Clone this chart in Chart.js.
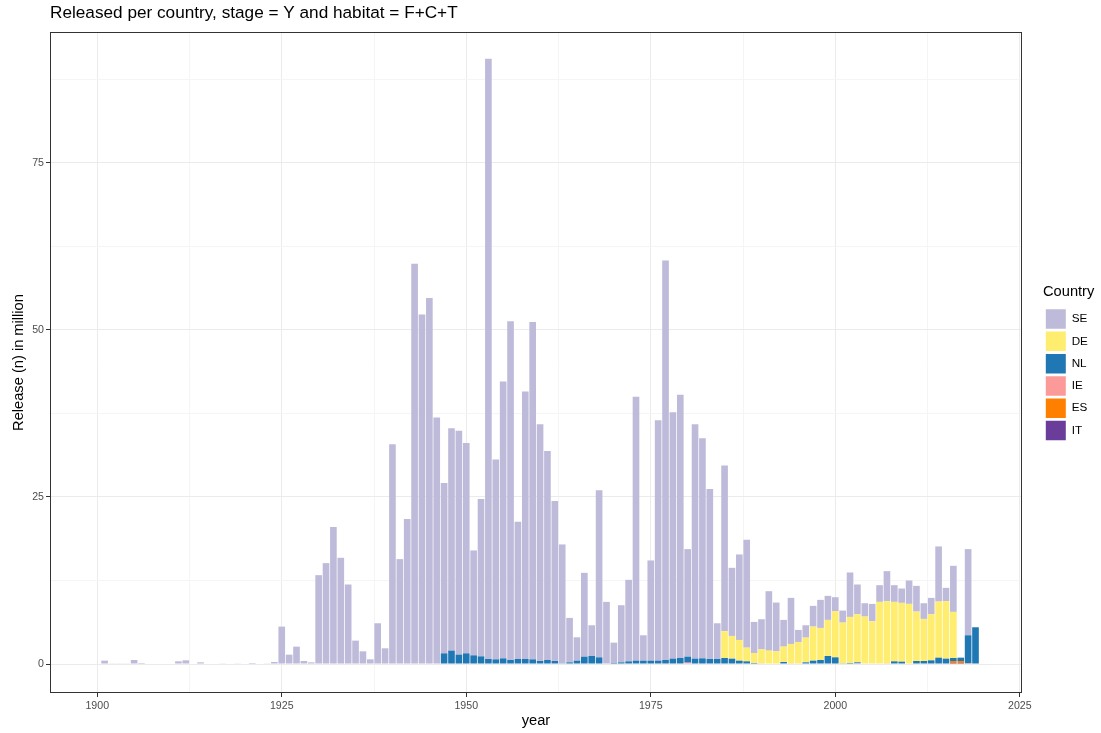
<!DOCTYPE html>
<html><head><meta charset="utf-8">
<script src="https://cdn.jsdelivr.net/npm/chart.js@4.4.1/dist/chart.umd.min.js"></script>
<style>html,body{margin:0;padding:0;background:#fff;}canvas{display:block;}</style>
</head><body>
<canvas id="c" width="1101" height="733"></canvas>
<script>
// years 1901..2019
const firstYear = 1901;
const SE = [
  0.5, 0.05, 0.05, 0.05, 0.6, 0.15, 0, 0, 0, 0,            // 1901-1910
  0.4, 0.55, 0, 0.25, 0, 0, 0.1, 0, 0.1, 0,               // 1911-1920
  0.15, 0, 0.1, 0.3, 5.6, 1.4, 2.6, 0.45, 0.25, 13.3,     // 1921-1930
  15.1, 20.5, 15.9, 11.9, 3.5, 1.9, 0.7, 6.1, 2.35, 32.9, // 1931-1940
  15.7, 21.7, 59.9, 52.3, 54.8, 36.9, 25.5, 33.3, 33.5, 31.5, // 1941-1950
  15.7, 23.55, 89.85, 29.9, 41.45, 50.7, 20.55, 40.05, 50.5, 35.45, // 1951-1960
  31.3, 23.95, 17.8, 6.65, 3.5, 12.55, 4.6, 25.0, 9.3, 3.05, // 1961-1970
  8.55, 12.2, 39.5, 3.8, 15.0, 36.0, 59.8, 36.9, 39.4, 16.1, // 1971-1980
  35.1, 32.95, 25.45, 5.35, 24.8, 10.2, 12.8, 16.15, 4.65, 4.5, // 1981-1990
  8.9, 7.3, 4.0, 6.9, 1.8, 1.85, 3.1, 4.2, 3.6, 2.1,       // 1991-2000
  1.8, 6.65, 4.45, 2.0, 2.6, 2.5, 4.5, 2.5, 2.15, 3.5,     // 2001-2010
  3.85, 2.35, 2.45, 8.25, 2.0, 6.9, 0, 12.9, 0             // 2011-2019
];
const DE_start = 1985;
const DE = [
  4.0, 3.4, 3.1, 2.05, 1.5, 2.1,                          // 1985-1990
  2.0, 1.9, 2.3, 2.9, 3.3, 3.7, 5.1, 4.8, 5.4, 6.9,       // 1991-2000
  6.1, 6.9, 7.2, 7.1, 6.4, 9.3, 9.3, 8.9, 8.8, 9.0,       // 2001-2010
  7.4, 6.3, 6.9, 8.4, 8.6, 6.9                            // 2011-2016
];
const NL_start = 1947;
const NL = [
  1.6, 2.0, 1.4, 1.6,                                     // 1947-1950
  1.3, 1.15, 0.75, 0.7, 0.85, 0.6, 0.75, 0.75, 0.7, 0.45, // 1951-1960
  0.6, 0.45, 0.1, 0.25, 0.5, 1.1, 1.2, 1.0, 0, 0.15,      // 1961-1970
  0.25, 0.4, 0.5, 0.5, 0.5, 0.5, 0.6, 0.8, 0.9, 0.9,      // 1971-1980
  0.8, 0.85, 0.75, 0.75, 0.9, 0.8, 0.5, 0.4, 0.15, 0,     // 1981-1990
  0, 0, 0.3, 0, 0, 0.25, 0.5, 0.6, 1.2, 1.0,              // 1991-2000
  0.1, 0.15, 0.15, 0, 0, 0, 0, 0.4, 0.35, 0,              // 2001-2010
  0.45, 0.45, 0.55, 0.95, 0.8, 0.45, 0.5, 4.2, 5.5        // 2011-2019
];
const IE_years = [1980, 1990, 1994, 2003, 2007];
const IE = [0.2, 0.1, 0.1, 0.1, 0.1];
const ES_years = [2016, 2017, 2018];
const ES = [0.3, 0.3, 0.1];
const IT_years = [2016, 2017];
const IT = [0.15, 0.15];

const xTicks = [1900, 1912.5, 1925, 1937.5, 1950, 1962.5, 1975, 1987.5, 2000, 2012.5, 2025];
const yTicks = [0, 12.5, 25, 37.5, 50, 62.5, 75, 87.5];

const fromStart = (arr, start) => arr.map((v, i) => ({x: start + i, y: v}));
const fromPairs = (yrs, vals) => yrs.map((yr, i) => ({x: yr, y: vals[i]}));

const FONT = "'Liberation Sans', Arial, sans-serif";

const panelPlugin = {
  id: 'panelPlugin',
  beforeUpdate(chart) {
    const lg = chart.legend;
    if (lg && !lg._patched) {
      const f = lg.fit.bind(lg);
      lg.fit = function () { f(); this.width = 79; };
      lg._patched = true;
    }
  },
  afterLayout(chart) {
    const lg = chart.legend;
    if (lg) { lg.left += 21; lg.right += 21; lg.top -= 2.5; lg.bottom -= 2.5; }
  },
  afterDatasetsDraw(chart) {
    const {ctx, chartArea: a} = chart;
    ctx.save();
    ctx.strokeStyle = '#333333';
    ctx.lineWidth = 1;
    ctx.strokeRect(Math.round(a.left) + 0.5, Math.round(a.top) + 0.5,
      Math.round(a.right) - Math.round(a.left) - 1, Math.round(a.bottom) - Math.round(a.top) - 1);
    ctx.restore();
  }
};

const isMajor = v => Math.abs(v % 25) < 1e-6;

const common = {barPercentage: 0.9, categoryPercentage: 1.0, borderWidth: 0};
new Chart(document.getElementById('c'), {
  type: 'bar',
  data: {
    datasets: [
      {label: 'IT', data: fromPairs(IT_years, IT), backgroundColor: '#6A3D9A', ...common},
      {label: 'ES', data: fromPairs(ES_years, ES), backgroundColor: '#FF7F00', ...common},
      {label: 'IE', data: fromPairs(IE_years, IE), backgroundColor: '#FB9A99', ...common},
      {label: 'NL', data: fromStart(NL, NL_start), backgroundColor: '#1F78B4', ...common},
      {label: 'DE', data: fromStart(DE, DE_start), backgroundColor: '#FFED6F', ...common},
      {label: 'SE', data: fromStart(SE, firstYear), backgroundColor: '#BEBADA', ...common}
    ]
  },
  options: {
    responsive: false,
    animation: false,
    layout: {padding: 0},
    plugins: {
      tooltip: {enabled: false},
      title: {
        display: true, fullSize: false, align: 'start',
        text: 'Released per country, stage = Y and habitat = F+C+T',
        color: '#000', font: {family: FONT, size: 17.2, weight: 'normal'},
        padding: {top: 2.8, bottom: 8.6}
      },
      legend: {
        position: 'right', reverse: true,
        title: {display: true, text: 'Country', position: 'start', color: '#000',
          font: {family: FONT, size: 14.67}, padding: {top: 0, bottom: 4}},
        labels: {boxWidth: 20, boxHeight: 19.5, padding: 2.8, color: '#000',
          font: {family: FONT, size: 11.7}}
      }
    },
    scales: {
      x: {
        type: 'linear', stacked: true, min: 1893.6, max: 2025.3, offset: false,
        afterBuildTicks: s => { s.ticks = xTicks.map(v => ({value: v})); },
        afterFit: s => { s.height = 40; },
        border: {display: false},
        grid: {
          offset: false,
          color: c => (c.tick && isMajor(c.tick.value)) ? '#EBEBEB' : '#F5F5F5',
          tickColor: c => (c.tick && isMajor(c.tick.value)) ? '#333333' : 'rgba(0,0,0,0)',
          tickLength: 4, drawTicks: true
        },
        ticks: {
          autoSkip: false, maxRotation: 0, padding: 2.5, color: '#4D4D4D',
          font: {family: FONT, size: 10.6},
          callback: v => isMajor(v) ? String(v) : ''
        },
        title: {display: true, text: 'year', color: '#000', font: {family: FONT, size: 14.67},
          padding: {top: 0, bottom: 3.2}}
      },
      y: {
        stacked: true, min: -4.34, max: 94.6,
        afterBuildTicks: s => { s.ticks = yTicks.map(v => ({value: v})); },
        afterFit: s => { s.width = 50; },
        border: {display: false},
        grid: {
          color: c => (c.tick && isMajor(c.tick.value)) ? '#EBEBEB' : '#F5F5F5',
          tickColor: c => (c.tick && isMajor(c.tick.value)) ? '#333333' : 'rgba(0,0,0,0)',
          tickLength: 4, drawTicks: true
        },
        ticks: {
          autoSkip: false, padding: 2, color: '#4D4D4D',
          font: {family: FONT, size: 10.6},
          callback: v => isMajor(v) ? String(v) : ''
        },
        title: {display: true, text: 'Release (n) in million', color: '#000',
          font: {family: FONT, size: 14.67}, padding: {top: 10, bottom: 0}}
      }
    }
  },
  plugins: [panelPlugin]
});
</script>
</body></html>
